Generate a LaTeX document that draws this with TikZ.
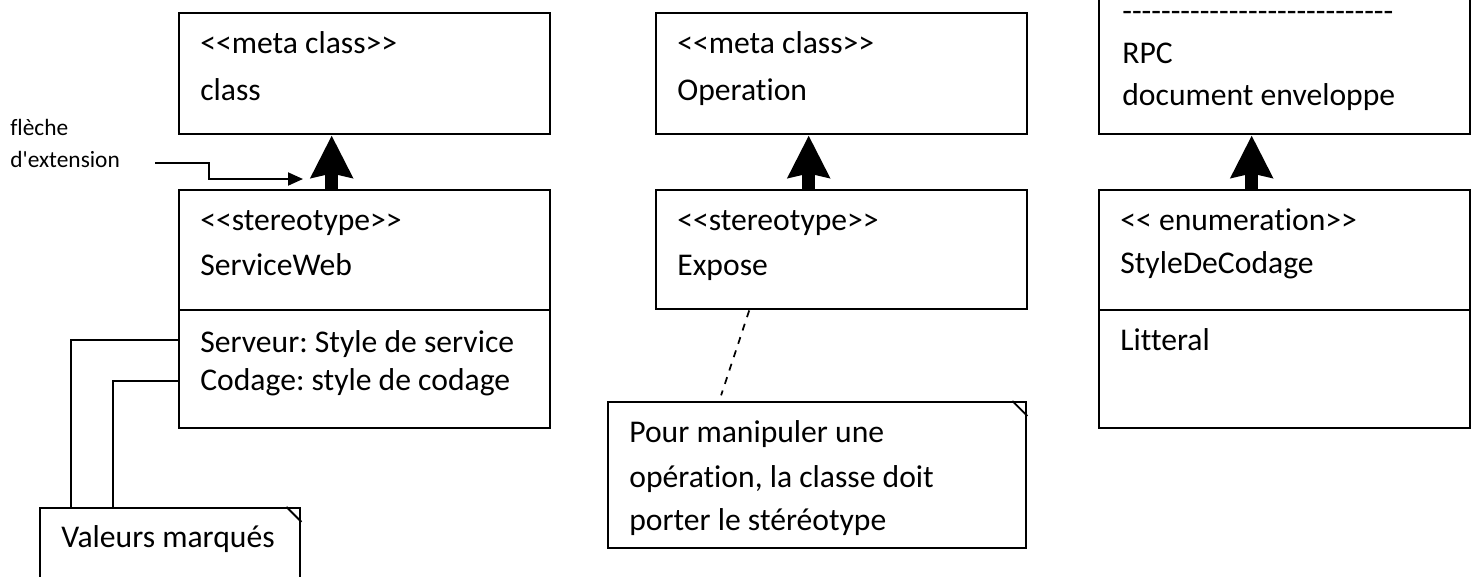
\documentclass[tikz,border=0pt]{standalone}
\usepackage{fontspec}
\setmainfont{Carlito}[Ligatures={TeXOff,NoCommon}]
\usepackage{tikz}
\usetikzlibrary{arrows.meta,positioning,calc}
\frenchspacing

\begin{document}
\begin{tikzpicture}[
    x=0.02cm, y=-0.02cm,
    font=\fontsize{18pt}{22pt}\selectfont,
    classbox/.style={draw, line width=1.4pt, minimum width=7.42cm, anchor=north west, inner sep=0pt},
    notebox/.style={draw, line width=1.4pt, anchor=north west, inner sep=0pt},
    txt/.style={anchor=base west, inner sep=0pt},
    small/.style={font=\fontsize{13.3pt}{16pt}\selectfont},
    extarrow/.style={line width=0.26cm, -{Stealth[length=0.84cm, width=0.82cm, inset=0.08cm]}},
    leader/.style={line width=1.1pt},
    pointer/.style={line width=1.1pt, -{Triangle[length=0.3cm, width=0.26cm]}},
    noteline/.style={line width=1pt, dash pattern=on 4pt off 4pt}
]

\useasboundingbox (0,0) rectangle (1474,576);
\clip (0,0) rectangle (1474,576);

% Left column
\node[classbox, minimum height=2.42cm] (metaclass) at (178,12) {};
\node[classbox, minimum height=2.4cm] (serviceweb) at (178,189) {};
\node[classbox, minimum height=2.36cm] (webattrs) at (178,309) {};
\node[txt] (metaclassst) at (200,53) {<<meta class>>};
\node[txt] (metaclassname) at (200,100) {class};
\node[txt] (servicewebst) at (200,230) {<<stereotype>>};
\node[txt] (servicewebname) at (200,275) {ServiceWeb};
\node[txt] (attrserveur) at (200,352) {Serveur: Style de service};
\node[txt] (attrcodage) at (200,390) {Codage: style de codage};

% Middle column
\node[classbox, minimum height=2.42cm] (metaop) at (655,12) {};
\node[classbox, minimum height=2.38cm] (expose) at (655,189) {};
\node[txt] (metaopst) at (677,53) {<<meta class>>};
\node[txt] (metaopname) at (677,100) {Operation};
\node[txt] (exposest) at (677,230) {<<stereotype>>};
\node[txt] (exposename) at (677,275) {Expose};

% Right column
\node[classbox, minimum height=4.26cm] (enumrpc) at (1098,-80) {};
\node[classbox, minimum height=2.4cm] (enumcodage) at (1098,189) {};
\node[classbox, minimum height=2.36cm] (enumvals) at (1098,309) {};
\node[txt] (rpcdash) at (1122,21) {\foreach \i in {1,...,28}{-}};
\node[txt] (rpcone) at (1122,63) {RPC};
\node[txt] (rpctwo) at (1122,105) {document enveloppe};
\node[txt] (enumst) at (1120,230) {<< enumeration>>};
\node[txt] (enumname) at (1120,273) {StyleDeCodage};
\node[txt] (enumlit) at (1120,350) {Litteral};

% Notes
\node[notebox, minimum width=8.36cm, minimum height=2.92cm] (exposenote) at (607,401) {};
\draw[leader] ([xshift=-0.3cm]exposenote.north east) -- ([yshift=-0.3cm]exposenote.north east);
\node[txt] (noteone) at (629,442) {Pour manipuler une};
\node[txt] (notetwo) at (629,487) {opération, la classe doit};
\node[txt] (notethree) at (629,530) {porter le stéréotype};

\node[notebox, minimum width=5.2cm, minimum height=2.26cm] (valeursnote) at (39,507) {};
\draw[leader] ([xshift=-0.3cm]valeursnote.north east) -- ([yshift=-0.3cm]valeursnote.north east);
\node[txt] (valeurstext) at (61,547) {Valeurs marqués};

% Extension arrows
\foreach \from/\to in {serviceweb/metaclass, expose/metaop, enumcodage/enumrpc}
  \draw[extarrow] ([xshift=-0.66cm]\from.north) -- ([xshift=-0.66cm]\to.south);

% Tagged value links
\draw[leader] ([yshift=-0.62cm]webattrs.north west) -| ([xshift=0.64cm]valeursnote.north west);
\draw[leader] ([yshift=-1.44cm]webattrs.north west) -| ([xshift=1.48cm]valeursnote.north west);

% Note link
\draw[noteline, shorten >=0.12cm] ([xshift=-1.85cm]expose.south) -- ([xshift=-1.96cm]exposenote.north);

% Caption with pointer
\node[txt, small] (flechetop) at (10,135) {flèche};
\node[txt, small] (flechebot) at (10,167) {d'extension};
\coordinate (extstart) at (155,163);
\coordinate (exttip) at (303,179);
\draw[pointer] (extstart) -- ++(54,0) |- (exttip);

\end{tikzpicture}
\end{document}
